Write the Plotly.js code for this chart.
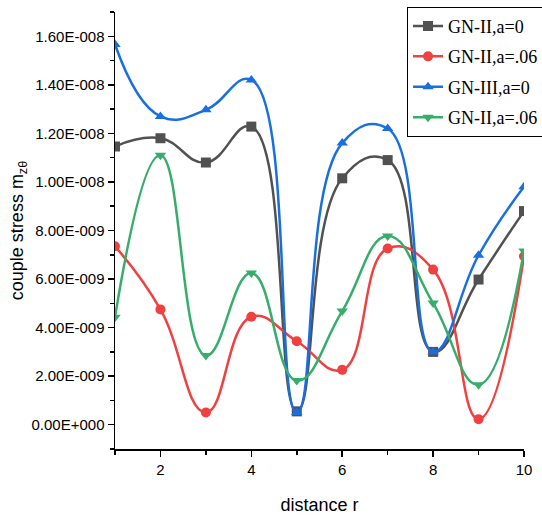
<!DOCTYPE html>
<html><head><meta charset="utf-8">
<script src="https://cdn.plot.ly/plotly-3.0.1.min.js"></script>
<style>html,body{margin:0;padding:0;background:#fff}#chart{width:542px;height:518px}</style>
</head><body><div id="chart"></div>
<script>
const distance = [1, 2, 3, 4, 5, 6, 7, 8, 9, 10];
const gn2_a0   = [11.46e-9, 11.8e-9, 10.8e-9, 12.28e-9, 0.55e-9, 10.15e-9, 10.9e-9, 3.0e-9, 5.98e-9, 8.8e-9];
const gn2_a06  = [7.35e-9, 4.75e-9, 0.5e-9, 4.45e-9, 3.44e-9, 2.26e-9, 7.26e-9, 6.39e-9, 0.23e-9, 6.94e-9];
const gn3_a0   = [15.66e-9, 12.7e-9, 12.97e-9, 14.2e-9, 0.5e-9, 11.6e-9, 12.2e-9, 3.0e-9, 6.98e-9, 9.8e-9];
const gn2_a06b = [4.43e-9, 11.1e-9, 2.85e-9, 6.25e-9, 1.82e-9, 4.68e-9, 7.77e-9, 5.01e-9, 1.65e-9, 7.16e-9];
const seriesNames = ['GN-II,a=0', 'GN-II,a=.06', 'GN-III,a=0', 'GN-II,a=.06'];
const yTickVals = [0, 2e-9, 4e-9, 6e-9, 8e-9, 10e-9, 12e-9, 14e-9, 16e-9];
const yTickText = ['0.00E+000','2.00E-009','4.00E-009','6.00E-009','8.00E-009','1.00E-008','1.20E-008','1.40E-008','1.60E-008'];
const xTickVals = [2, 4, 6, 8, 10];

const colors = ['#515151', '#F14040', '#1A6FDF', '#37AD6B'];
const symbols = ['square', 'circle', 'triangle-up', 'triangle-down'];
const ys = [gn2_a0, gn2_a06, gn3_a0, gn2_a06b];

const traces = ys.map((y, i) => ({
  x: distance, y: y, name: seriesNames[i], legendgroup: 'g' + i, type: 'scatter', mode: 'lines+markers',
  line: {color: colors[i], width: 2.5, shape: 'spline', smoothing: 1.3},
  marker: {color: colors[i], symbol: symbols[i], size: 10}
}));

const axisFont = {family: 'Liberation Sans Narrow, Liberation Sans, Arial', size: 15, color: '#000'};
const layout = {
  width: 542, height: 518,
  margin: {l: 115, r: 18, t: 12, b: 69, autoexpand: false},
  paper_bgcolor: '#fff', plot_bgcolor: '#fff',
  showlegend: true,
  legend: {x: 0.714, y: 1.012, xanchor: 'left', yanchor: 'top',
    bordercolor: '#000', borderwidth: 1, bgcolor: '#fff',
    font: {family: 'Liberation Serif, Times New Roman, serif', size: 18, color: '#000'},
    tracegroupgap: 4},
  xaxis: {range: [1, 10], tickvals: xTickVals, ticks: 'outside', ticklen: 6, tickwidth: 1.5,
    tickcolor: '#000', showline: true, linecolor: '#000', linewidth: 1.5, showgrid: false, zeroline: false,
    tickfont: axisFont,
    minor: {tickvals: [1, 3, 5, 7, 9], ticks: 'outside', ticklen: 4, tickwidth: 1.5, tickcolor: '#000', showgrid: false},
    title: {text: 'distance r', font: {family: 'Liberation Sans Narrow, Liberation Sans, Arial', size: 18, color: '#000'}, standoff: 22}},
  yaxis: {range: [-1e-9, 17e-9], tickvals: yTickVals, ticktext: yTickText, ticks: 'outside', ticklen: 6, tickwidth: 1.5,
    tickcolor: '#000', showline: true, linecolor: '#000', linewidth: 1.5, showgrid: false, zeroline: false,
    tickfont: axisFont,
    minor: {tickvals: [-1e-9, 1e-9, 3e-9, 5e-9, 7e-9, 9e-9, 11e-9, 13e-9, 15e-9, 17e-9], ticks: 'outside', ticklen: 4, tickwidth: 1.5, tickcolor: '#000', showgrid: false},
    title: {text: 'couple stress m<sub>zθ</sub>', font: {family: 'Liberation Sans, Arial', size: 18, color: '#000'}, standoff: 3}}
};
Plotly.newPlot('chart', traces, layout, {displayModeBar: false, staticPlot: true});
</script></body></html>
